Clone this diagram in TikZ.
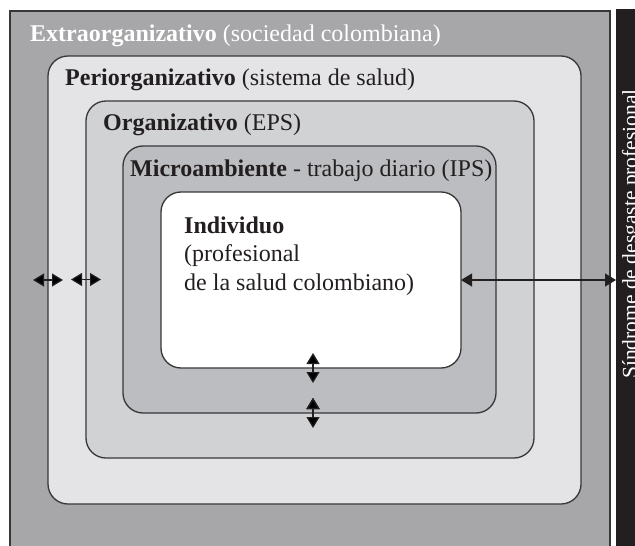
\documentclass[tikz,border=0pt]{standalone}
\usepackage{fontspec}
\setmainfont{Liberation Serif}
\usetikzlibrary{positioning}
\usetikzlibrary{arrows.meta}
\usepackage{xcolor}
\definecolor{extragray}{RGB}{167,167,170}
\definecolor{perigray}{RGB}{228,228,230}
\definecolor{orggray}{RGB}{209,210,212}
\definecolor{microgray}{RGB}{188,189,192}
\definecolor{linegray}{RGB}{55,55,57}
\definecolor{inkblack}{RGB}{35,31,32}

\begin{document}
\begin{tikzpicture}[
        x=1pt, y=-1pt,
        lnode/.style={rectangle, anchor=north west, rounded corners=20pt, draw=linegray, line width=1.3pt, inner sep=0pt, outer sep=0pt},
        tnode/.style={anchor=base west, inner sep=0pt, text=inkblack, font=\fontsize{24}{28.5}\selectfont},
        dbl/.style={{Triangle[length=11pt,width=13pt]}-{Triangle[length=11pt,width=13pt]}, line width=1.2pt, draw=inkblack}
    ]
        \useasboundingbox (0,0) rectangle (635,546);
        \node[lnode, rounded corners=0pt, fill=extragray, minimum width=600pt, minimum height=560pt] (E) at (10,11) {};
        \node[lnode, fill=perigray, minimum width=533pt, minimum height=448pt] (P) at (48,56) {};
        \node[lnode, fill=orggray, minimum width=448pt, minimum height=357pt] (O) at (86,101) {};
        \node[lnode, fill=microgray, minimum width=373pt, minimum height=267pt] (M) at (123,146) {};
        \node[lnode, fill=white, minimum width=300pt, minimum height=176pt] (I) at (161,192) {};
        \node[rectangle, anchor=north west, fill=inkblack, minimum width=40pt, minimum height=560pt, inner sep=0pt] (S) at (616,9) {};

        \node[tnode, text=white] (Et) at (30,41) {\textbf{Extraorganizativo} (sociedad colombiana)};
        \node[tnode] (Pt) at (65,85) {\textbf{Periorganizativo} (sistema de salud)};
        \node[tnode] (Ot) at (103,130) {\textbf{Organizativo} (EPS)};
        \node[tnode] (Mt) at (130,176) {\textbf{Microambiente} - trabajo diario (IPS)};
        \node[tnode, align=left] (It) at (184,290) {\textbf{Individuo}\\(profesional\\de la salud colombiano)};
        \node[tnode, anchor=base, rotate=90, text=white, font=\fontsize{21.5}{26}\selectfont] (St) at (637,234) {Síndrome de desgaste profesional};

        \coordinate (p1) at ([xshift=-15pt]P.west);
        \coordinate (p2) at ([xshift=15pt]P.west);
        \coordinate (o1) at ([xshift=-15pt]O.west);
        \coordinate (o2) at ([xshift=15pt]O.west);
        \coordinate (i1) at ([xshift=2pt, yshift=15pt]I.south);
        \coordinate (i2) at ([xshift=2pt, yshift=-15pt]I.south);
        \coordinate (m1) at ([xshift=3.5pt, yshift=15pt]M.south);
        \coordinate (m2) at ([xshift=3.5pt, yshift=-15pt]M.south);
        \coordinate (s1) at (S.west |- I.east);

        \path[dbl] (p1) edge (p2)
            (o1) edge (o2)
            (i1) edge (i2)
            (m1) edge (m2);
        \draw[dbl] (I.east) -- (s1);
    \end{tikzpicture}
\end{document}
